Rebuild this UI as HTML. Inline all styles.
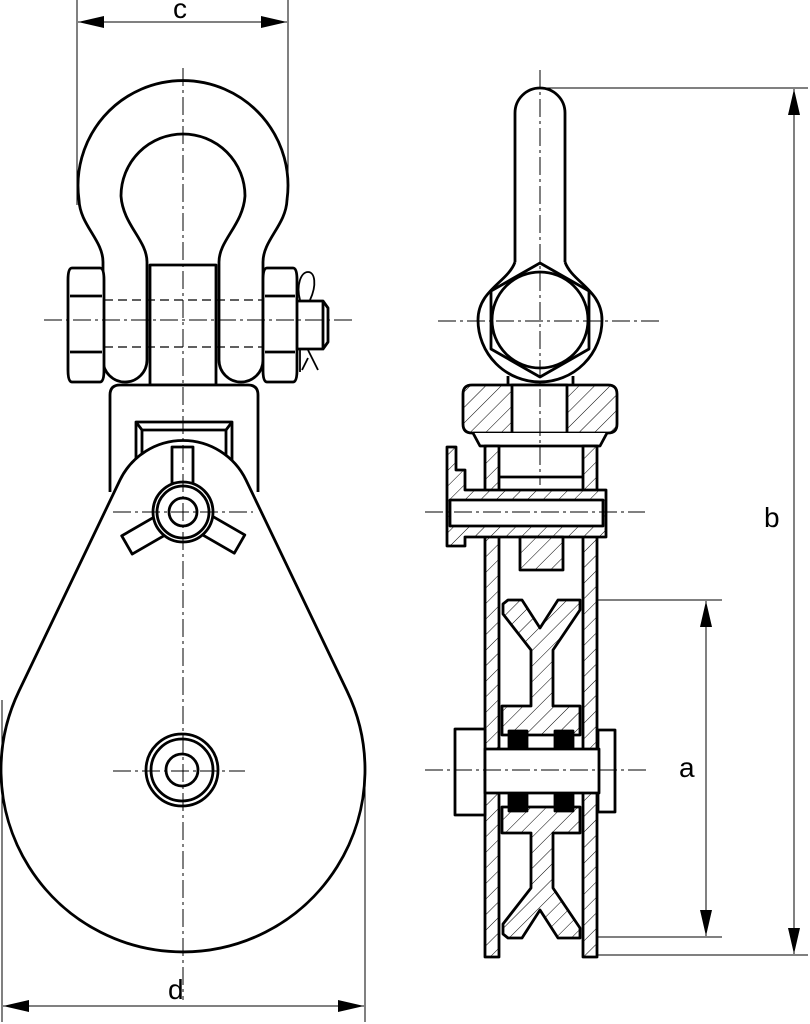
<!DOCTYPE html>
<html><head><meta charset="utf-8"><style>
html,body{margin:0;padding:0;background:#fff;}
svg{display:block;}
text{font-family:"Liberation Sans",sans-serif;font-size:28px;fill:#000;}
</style></head><body>
<svg width="810" height="1024" viewBox="0 0 810 1024" xmlns="http://www.w3.org/2000/svg">
<defs>
<pattern id="h" patternUnits="userSpaceOnUse" width="11" height="11" patternTransform="rotate(45)">
<rect width="11" height="11" fill="#fff"/><line x1="0" y1="0" x2="0" y2="11" stroke="#000" stroke-width="1"/>
</pattern>
<marker id="a" viewBox="0 0 10 10" refX="10" refY="5" markerWidth="26" markerHeight="12" markerUnits="userSpaceOnUse" orient="auto-start-reverse" preserveAspectRatio="none"><path d="M0,0 L10,5 L0,10 Z" fill="#000"/></marker>
</defs>
<g fill="none" stroke="#000" stroke-width="1">
<line x1="77" y1="0" x2="77" y2="205"/><line x1="288" y1="0" x2="288" y2="200"/>
<line x1="78" y1="22" x2="287" y2="22" marker-start="url(#a)" marker-end="url(#a)"/>
<line x1="2" y1="700" x2="2" y2="1022"/><line x1="365" y1="780" x2="365" y2="1022"/>
<line x1="3" y1="1006" x2="364" y2="1006" marker-start="url(#a)" marker-end="url(#a)"/>
<line x1="590" y1="600" x2="722" y2="600"/><line x1="590" y1="937" x2="722" y2="937"/>
<line x1="706" y1="601" x2="706" y2="936" marker-start="url(#a)" marker-end="url(#a)"/>
<line x1="540" y1="88" x2="808" y2="88"/><line x1="597" y1="955" x2="808" y2="955"/>
<line x1="794" y1="89" x2="794" y2="954" marker-start="url(#a)" marker-end="url(#a)"/>
</g>
<text x="173" y="18">c</text>
<text x="168" y="999">d</text>
<text x="679" y="777">a</text>
<text x="764" y="527">b</text>

<g fill="none" stroke="#000" stroke-width="2.8" stroke-linejoin="round">
<path d="M103 262 C103 240 80 225 79 200 A105 105 0 1 1 287 200 C286 225 263 240 263 262"/>
<path d="M147 262 C147 240 123 225 121 196 A62 62 0 1 1 245 196 C243 225 219 240 219 262"/>
<path d="M103 262 L103 360 A22 22 0 0 0 147 360 L147 262" fill="#fff"/>
<path d="M219 262 L219 360 A22 22 0 0 0 263 360 L263 262" fill="#fff"/>
<path d="M72 268 L100 268 Q104 268 104 280 L104 370 Q104 382 100 382 L72 382 Q68 382 68 370 L68 280 Q68 268 72 268 Z" fill="#fff"/>
<line x1="70" y1="296" x2="102" y2="296"/><line x1="70" y1="352" x2="102" y2="352"/>
<path d="M267 268 L293 268 Q297 268 297 280 L297 370 Q297 382 293 382 L267 382 Q263 382 263 370 L263 280 Q263 268 267 268 Z" fill="#fff"/>
<line x1="265" y1="296" x2="295" y2="296"/><line x1="265" y1="352" x2="295" y2="352"/>
<path d="M297 301 L323 301 L328 308 L328 342 L323 349 L297 349"/>
<line x1="323" y1="301" x2="323" y2="349"/>
<path d="M300 300 C296 285 301 272 308 272 C315 272 317 285 310 300" stroke-width="1.8"/>
<path d="M300 350 L300 372 M308 350 L318 370 M308 358 L302 370" stroke-width="1.8"/>
<rect x="150" y="265" width="66" height="120" fill="#fff"/>
<path d="M110 492 L110 395 Q110 385 120 385 L248 385 Q258 385 258 395 L258 492" fill="#fff"/>
<path d="M136 482 L136 422 L232 422 L232 482"/>
<path d="M136 422 L142 430 L226 430 L232 422"/>
<path d="M142 430 L142 482 M226 430 L226 482"/>
<path d="M120 480 A70 70 0 0 1 246 480 L347 691 A182 182 0 1 1 19 691 Z" fill="#fff"/>
<path d="M172 491 L172 447 L193 447 L193 491"/>
<g transform="rotate(120 183 512)"><path d="M172 491 L172 447 L193 447 L193 491" fill="#fff"/></g>
<g transform="rotate(240 183 512)"><path d="M172 491 L172 447 L193 447 L193 491" fill="#fff"/></g>
<circle cx="183" cy="512" r="30" fill="#fff"/><circle cx="183" cy="512" r="26"/><circle cx="183" cy="512" r="14"/>
<circle cx="182" cy="770" r="36"/><circle cx="182" cy="770" r="31"/><circle cx="182" cy="770" r="16"/>

<path d="M515 265 L515 113 A25 25 0 0 1 565 113 L565 265"/>
<path d="M515 262 C508 282 478 290 478 320 A62 62 0 0 0 602 320 C602 290 572 282 565 262" fill="#fff"/>
<path d="M540 263 L589 291 L589 349 L540 377 L491 349 L491 291 Z"/>
<circle cx="540" cy="320" r="48"/>
<path d="M508 376 L508 387 M573 376 L573 387"/>
<path d="M472 385 L608 385 Q617 385 617 394 L617 424 Q617 433 608 433 L472 433 Q463 433 463 424 L463 394 Q463 385 472 385 Z" fill="url(#h)"/>
<rect x="512" y="385" width="55" height="48" fill="#fff"/>
<path d="M473 433 L480 446 L600 446 L607 433" fill="#fff"/>
<rect x="485" y="446" width="14" height="511" fill="url(#h)"/>
<rect x="583" y="446" width="14" height="511" fill="url(#h)"/>
<line x1="499" y1="477" x2="583" y2="477"/>
<path d="M447 447 L456 447 L456 470 L465 470 L465 490 L606 490 L606 537 L465 537 L465 546 L447 546 Z" fill="url(#h)"/>
<rect x="450" y="500" width="153" height="26" fill="#fff"/>
<rect x="520" y="537" width="43" height="33" fill="url(#h)"/>
<path d="M503 604 L508 600 L522 600 L540 628 L558 600 L580 600 L580 610 L553 650 L553 706 L580 706 L580 735 L502 735 L502 706 L531 706 L531 650 L503 614 Z" fill="url(#h)"/>
<path d="M503 934 L508 938 L522 938 L540 910 L558 938 L580 938 L580 928 L553 888 L553 833 L580 833 L580 807 L502 807 L502 833 L531 833 L531 888 L503 924 Z" fill="url(#h)"/>
<rect x="509" y="731" width="18" height="18" fill="#000"/><rect x="555" y="731" width="18" height="18" fill="#000"/>
<rect x="509" y="793" width="18" height="18" fill="#000"/><rect x="555" y="793" width="18" height="18" fill="#000"/>
<rect x="455" y="729" width="30" height="86" fill="#fff"/>
<rect x="598" y="730" width="17" height="82" fill="#fff"/>
<rect x="485" y="749" width="114" height="44" fill="#fff"/>
</g>

<g fill="none" stroke="#000" stroke-width="1" stroke-dasharray="18,4,3,4">
<line x1="183" y1="68" x2="183" y2="1000"/>
<line x1="44" y1="320" x2="356" y2="320"/>
<line x1="113" y1="512" x2="253" y2="512"/>
<line x1="113" y1="771" x2="245" y2="771"/>
<line x1="540" y1="70" x2="540" y2="485"/>
<line x1="438" y1="321" x2="660" y2="321"/>
<line x1="425" y1="512" x2="645" y2="512"/>
<line x1="425" y1="770" x2="647" y2="770"/>
</g>
<g fill="none" stroke="#000" stroke-width="1.2" stroke-dasharray="9,5">
<line x1="104" y1="300" x2="263" y2="300"/>
<line x1="104" y1="347" x2="263" y2="347"/>
</g>
</svg>
</body></html>
